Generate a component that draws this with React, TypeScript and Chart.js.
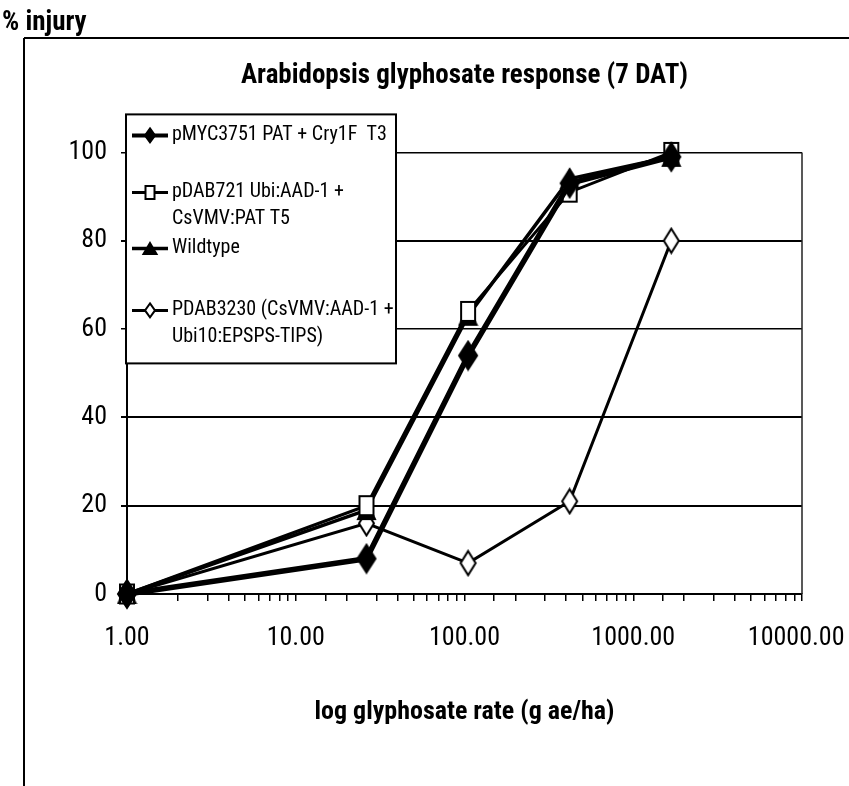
import React, { useEffect, useRef } from 'react';
import { Chart, registerables } from 'chart.js';

Chart.register(...registerables);

// ---- data ----
const rates = [1, 26.25, 105, 420, 1680];
const pMYC3751 = [0, 8, 54, 93, 99];
const pDAB721 = [0, 20, 64, 91, 100];
const wildtype = [0, 19, 63, 94, 99];
const pDAB3230 = [0, 16, 7, 21, 80];
const seriesValues = [pMYC3751, pDAB721, wildtype, pDAB3230];
const seriesLabels = [
  ['pMYC3751 PAT + Cry1F  T3'],
  ['pDAB721 Ubi:AAD-1 +', 'CsVMV:PAT T5'],
  ['Wildtype'],
  ['PDAB3230 (CsVMV:AAD-1 +', 'Ubi10:EPSPS-TIPS)'],
];
const xLabelValues = [1, 10, 100, 1000, 10000];
const titleText = 'Arabidopsis glyphosate response (7 DAT)';
const xTitleText = 'log glyphosate rate (g ae/ha)';
const yTitleText = '% injury';

// ---- styles ----
const COND = "'Roboto Condensed', Roboto, 'Liberation Sans', sans-serif";
type Kind = 'diamond' | 'square' | 'triangle';
const seriesStyles: { kind: Kind; filled: boolean; w: number; h: number; lw: number; lgW: number; lgH: number; lgLw: number }[] = [
  { kind: 'diamond', filled: true, w: 18, h: 28, lw: 5.5, lgW: 10, lgH: 14, lgLw: 4 },
  { kind: 'square', filled: false, w: 14, h: 19, lw: 3, lgW: 9, lgH: 13, lgLw: 3 },
  { kind: 'triangle', filled: true, w: 17, h: 18, lw: 3.5, lgW: 13, lgH: 11, lgLw: 3.5 },
  { kind: 'diamond', filled: false, w: 15, h: 24, lw: 3, lgW: 10, lgH: 14, lgLw: 3 },
];

function drawShape(ctx: CanvasRenderingContext2D, kind: Kind, cx: number, cy: number, w: number, h: number, filled: boolean, lw: number) {
  ctx.save();
  ctx.beginPath();
  if (kind === 'diamond') {
    ctx.moveTo(cx, cy - h / 2);
    ctx.lineTo(cx + w / 2, cy);
    ctx.lineTo(cx, cy + h / 2);
    ctx.lineTo(cx - w / 2, cy);
    ctx.closePath();
  } else if (kind === 'square') {
    ctx.rect(cx - w / 2, cy - h / 2, w, h);
  } else {
    ctx.moveTo(cx, cy - h / 2);
    ctx.lineTo(cx + w / 2, cy + h / 2);
    ctx.lineTo(cx - w / 2, cy + h / 2);
    ctx.closePath();
  }
  ctx.fillStyle = filled ? '#000' : '#fff';
  ctx.fill();
  ctx.lineWidth = lw;
  ctx.strokeStyle = '#000';
  ctx.lineJoin = 'miter';
  ctx.stroke();
  ctx.restore();
}

function makeMarker(kind: Kind, w: number, h: number, filled: boolean) {
  const c = document.createElement('canvas');
  c.width = w + 4;
  c.height = h + 4;
  const ctx = c.getContext('2d')!;
  drawShape(ctx, kind, c.width / 2, c.height / 2, w, h, filled, 2);
  return c;
}

const framePlugin = {
  id: 'frame',
  beforeDraw(chart: any) {
    const ctx = chart.ctx as CanvasRenderingContext2D;
    ctx.save();
    ctx.fillStyle = '#000';
    ctx.font = `bold 27px ${COND}`;
    ctx.textBaseline = 'alphabetic';
    ctx.textAlign = 'left';
    ctx.fillText(yTitleText, 2, 30);
    ctx.strokeStyle = '#000';
    ctx.lineWidth = 2;
    ctx.beginPath();
    ctx.moveTo(24, 38);
    ctx.lineTo(849, 38);
    ctx.moveTo(24, 38);
    ctx.lineTo(24, 786);
    ctx.stroke();
    ctx.restore();
  },
  beforeDatasetsDraw(chart: any) {
    const ctx = chart.ctx as CanvasRenderingContext2D;
    const ca = chart.chartArea;
    ctx.save();
    // right border of plot
    ctx.strokeStyle = '#222';
    ctx.lineWidth = 1.5;
    ctx.beginPath();
    ctx.moveTo(ca.right, ca.top);
    ctx.lineTo(ca.right, ca.bottom);
    ctx.stroke();
    // legend box
    const lx = ca.left - 1;
    const ly = ca.top - 38;
    const lw = 270;
    const lh = 249;
    ctx.fillStyle = '#fff';
    ctx.fillRect(lx, ly, lw, lh);
    ctx.strokeStyle = '#000';
    ctx.lineWidth = 2;
    ctx.strokeRect(lx, ly, lw, lh);
    const rowOffsets = [21, 78, 134, 196];
    ctx.font = `20px ${COND}`;
    ctx.textBaseline = 'middle';
    ctx.textAlign = 'left';
    seriesStyles.forEach((st, i) => {
      const y = ly + rowOffsets[i];
      ctx.strokeStyle = '#000';
      ctx.lineWidth = st.lgLw;
      ctx.beginPath();
      ctx.moveTo(lx + 6, y);
      ctx.lineTo(lx + 42, y);
      ctx.stroke();
      drawShape(ctx, st.kind, lx + 24, y, st.lgW, st.lgH, st.filled, 2);
      ctx.fillStyle = '#000';
      seriesLabels[i].forEach((t, k) => {
        ctx.fillText(t, lx + 46, y + k * 27);
      });
    });
    ctx.restore();
  },
};

export default function App() {
  const ref = useRef<HTMLCanvasElement | null>(null);
  useEffect(() => {
    const canvas = ref.current!;
    const markers = seriesStyles.map((s) => makeMarker(s.kind, s.w, s.h, s.filled));
    const chart = new Chart(canvas, {
      type: 'line',
      data: {
        datasets: seriesValues.map((vals, i) => ({
          label: seriesLabels[i].join(' '),
          data: rates.map((x, j) => ({ x, y: vals[j] })),
          borderColor: '#000',
          backgroundColor: '#000',
          borderWidth: seriesStyles[i].lw,
          pointStyle: markers[i] as any,
          pointRadius: 10,
          pointHoverRadius: 10,
          fill: false,
          tension: 0,
          clip: false as any,
        })),
      },
      options: {
        animation: false,
        responsive: false,
        events: [],
        layout: { padding: { left: 0, right: 47, top: 0, bottom: 0 }, autoPadding: false } as any,
        plugins: {
          legend: { display: false },
          tooltip: { enabled: false },
          title: {
            display: true,
            text: titleText,
            fullSize: false,
            color: '#000',
            font: { family: COND, size: 27, weight: 'bold' },
            padding: { top: 60, bottom: 60 },
          },
        },
        scales: {
          x: {
            type: 'logarithmic',
            min: 1,
            max: 10000,
            afterFit: (s: any) => {
              s.height = 192;
              s.paddingLeft = 0;
              s.paddingRight = 0;
            },
            ticks: {
              color: '#000',
              font: { family: COND, size: 26 },
              padding: 22,
              autoSkip: false,
              maxRotation: 0,
              minRotation: 0,
              callback: (value: any) => {
                const v = Number(value);
                const m = xLabelValues.find((p) => Math.abs(p - v) / p < 1e-6);
                if (m === undefined) return '';
                return m === xLabelValues[xLabelValues.length - 1] ? m.toFixed(2) + '\u2002' : m.toFixed(2);
              },
            },
            grid: { drawOnChartArea: false, color: '#000', lineWidth: 1.5, tickLength: 7 },
            border: { color: '#000', width: 2 },
            title: {
              display: true,
              text: xTitleText,
              color: '#000',
              font: { family: COND, size: 26, weight: 'bold' },
              padding: { top: 0, bottom: 58 },
            },
          },
          y: {
            min: 0,
            max: 100,
            afterFit: (s: any) => {
              s.width = 127;
              s.paddingTop = 0;
              s.paddingBottom = 0;
            },
            ticks: {
              stepSize: 20,
              color: '#000',
              font: { family: COND, size: 26 },
              padding: 14,
            },
            grid: {
              color: '#000',
              lineWidth: (c: any) => (c.tick && (c.tick.value === 100 || c.tick.value === 60) ? 1.5 : 2),
              tickLength: 6,
            },
            border: { color: '#000', width: 2 },
          },
        },
      },
      plugins: [framePlugin],
    });
    return () => chart.destroy();
  }, []);
  return (
    <div style={{ position: 'absolute', left: 0, top: 0, width: 849, height: 786, background: '#fff' }}>
      <canvas ref={ref} width={849} height={786} style={{ display: 'block', width: 849, height: 786 }} />
    </div>
  );
}
